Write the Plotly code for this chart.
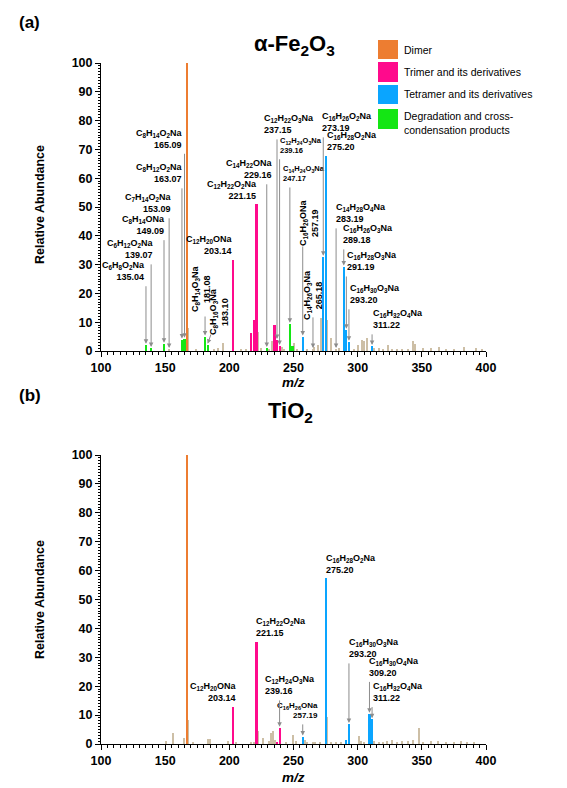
import plotly.graph_objects as go

# ---------------- DATA ----------------
# Panel (a): alpha-Fe2O3
a_dimer_mz = [167.10]
a_dimer_ab = [100.0]
a_trimer_mz = [203.14, 217.13, 219.14, 221.15, 235.14, 237.15, 239.16]
a_trimer_ab = [31.6, 6.1, 10.8, 50.9, 9.0, 3.8, 1.7]
a_tetramer_mz = [257.19, 273.19, 275.20, 289.18, 291.19, 293.20, 311.22]
a_tetramer_ab = [5.0, 32.7, 67.7, 29.3, 7.3, 3.2, 1.7]
a_degr_mz = [135.04, 139.07, 149.09, 163.07, 165.09, 181.08, 183.10, 229.16, 247.17, 249.17]
a_degr_ab = [2.1, 1.0, 2.5, 3.9, 4.2, 5.0, 2.1, 1.0, 9.4, 1.7]
a_other_mz = [153.09, 168.10, 174.0, 188.0, 191.0, 195.5, 209.0, 213.0, 222.15, 225.0, 231.0,
              233.2, 241.0, 243.0, 250.8, 253.0, 261.0, 265.18, 266.4, 269.0, 271.2, 276.2,
              279.4, 283.19, 285.8, 297.0, 300.0, 303.4, 305.3, 307.0, 313.0, 317.0, 320.0,
              323.5, 327.0, 331.0, 335.0, 339.0, 343.0, 345.0, 350.8, 357.0, 363.8, 369.0,
              375.0, 383.3, 392.4, 397.0]
a_other_ab = [0.6, 8.0, 0.5, 0.5, 1.0, 2.7, 0.8, 0.5, 6.7, 1.0, 0.8,
              3.5, 1.5, 0.8, 2.7, 0.8, 0.6, 0.6, 1.5, 2.0, 11.3, 10.8,
              4.4, 0.6, 1.2, 0.8, 2.0, 3.8, 3.5, 4.5, 1.0, 1.0, 0.6,
              2.0, 0.8, 0.6, 0.8, 0.8, 3.5, 2.5, 1.0, 1.0, 1.5, 0.6,
              0.5, 1.5, 1.0, 0.5]

# Panel (b): TiO2
b_dimer_mz = [167.10]
b_dimer_ab = [100.0]
b_trimer_mz = [203.14, 221.15, 237.15, 239.16]
b_trimer_ab = [12.7, 35.4, 0.8, 5.6]
b_tetramer_mz = [257.19, 275.20, 291.19, 293.20, 309.20, 311.22]
b_tetramer_ab = [2.5, 57.3, 1.4, 6.9, 10.4, 8.5]
b_other_mz = [150.5, 155.9, 164.5, 168.10, 172.0, 183.2, 185.2, 199.0, 205.0, 217.0, 219.0,
              222.15, 226.5, 231.0, 232.5, 234.5, 236.0, 244.0, 249.8, 252.0, 259.0, 261.0,
              265.0, 267.0, 271.0, 276.2, 279.0, 283.0, 287.0, 300.8, 303.0, 305.0, 313.0,
              317.0, 320.0, 323.0, 327.0, 331.0, 335.0, 339.0, 343.0, 347.7, 351.0, 357.0,
              363.0, 369.0, 375.0, 381.0, 385.0, 391.0]
b_other_ab = [1.0, 3.9, 2.2, 8.3, 0.8, 1.7, 1.7, 1.0, 0.7, 0.5, 0.8,
              4.6, 2.2, 1.0, 3.9, 4.5, 1.5, 0.8, 3.1, 1.2, 1.5, 0.8,
              0.8, 0.8, 0.5, 9.4, 0.8, 0.5, 0.6, 2.8, 1.2, 0.8, 1.2,
              0.8, 0.5, 1.0, 1.5, 0.8, 1.0, 1.0, 1.5, 5.5, 0.8, 1.0,
              1.2, 0.8, 0.5, 1.0, 0.8, 0.5]

x_ticks = [100, 150, 200, 250, 300, 350, 400]
y_ticks = [0, 10, 20, 30, 40, 50, 60, 70, 80, 90, 100]
legend_names = ["Dimer", "Trimer and its derivatives", "Tetramer and its derivatives",
                "Degradation and cross-<br>condensation products"]

# ---------------- STYLE ----------------
C_DIM = "#ED7D31"
C_TRI = "#FF0A8C"
C_TET = "#0AA5FF"
C_DEG = "#14E614"
C_OTH = "#CDBFA6"
C_LEAD = "#8C8C8C"
FONT = "Arial, Liberation Sans, sans-serif"
W, H = 567, 788

fig = go.Figure()

def add_bars(mz, ab, color, width, xa, ya):
    fig.add_trace(go.Bar(x=mz, y=ab, width=width, marker=dict(color=color, line=dict(width=0)),
                         xaxis=xa, yaxis=ya, showlegend=False, hoverinfo="x+y"))

add_bars(a_other_mz, a_other_ab, C_OTH, 1.0, "x", "y")
add_bars(a_degr_mz, a_degr_ab, C_DEG, 1.7, "x", "y")
add_bars(a_trimer_mz, a_trimer_ab, C_TRI, 1.7, "x", "y")
add_bars(a_tetramer_mz, a_tetramer_ab, C_TET, 1.7, "x", "y")
add_bars(a_dimer_mz, a_dimer_ab, C_DIM, 1.7, "x", "y")

add_bars(b_other_mz, b_other_ab, C_OTH, 1.0, "x2", "y2")
add_bars(b_trimer_mz, b_trimer_ab, C_TRI, 1.7, "x2", "y2")
add_bars(b_tetramer_mz, b_tetramer_ab, C_TET, 1.7, "x2", "y2")
add_bars(b_dimer_mz, b_dimer_ab, C_DIM, 1.7, "x2", "y2")

a_lookup = dict(zip(a_dimer_mz + a_trimer_mz + a_tetramer_mz + a_degr_mz + a_other_mz,
                    a_dimer_ab + a_trimer_ab + a_tetramer_ab + a_degr_ab + a_other_ab))
b_lookup = dict(zip(b_dimer_mz + b_trimer_mz + b_tetramer_mz + b_other_mz,
                    b_dimer_ab + b_trimer_ab + b_tetramer_ab + b_other_ab))

def px2paper_x(px):
    return px / W

def px2paper_y(py):
    return 1 - py / H

axis_common = dict(showgrid=False, zeroline=False, showline=True, linecolor="black", linewidth=1,
                   ticks="outside", tickcolor="black", tickwidth=1, automargin=False,
                   tickfont=dict(family=FONT, size=12.5, color="black", weight="bold"))

xdom = [px2paper_x(101), px2paper_x(486)]
fig.update_layout(
    width=W, height=H, margin=dict(l=0, r=0, t=0, b=0, autoexpand=False),
    paper_bgcolor="white", plot_bgcolor="white", barmode="overlay", bargap=0,
    showlegend=False,
    xaxis=dict(domain=xdom, range=[100, 400], tickvals=x_ticks, ticklen=5, anchor="y",
               minor=dict(dtick=5, ticklen=3, ticks="outside", tickcolor="black"), **axis_common),
    yaxis=dict(domain=[px2paper_y(351), px2paper_y(63)], range=[0, 100], tickvals=y_ticks,
               ticklen=5, anchor="x",
               minor=dict(dtick=1, ticklen=2.5, ticks="outside", tickcolor="black"), **axis_common),
    xaxis2=dict(domain=xdom, range=[100, 400], tickvals=x_ticks, ticklen=5, anchor="y2",
                minor=dict(dtick=5, ticklen=3, ticks="outside", tickcolor="black"), **axis_common),
    yaxis2=dict(domain=[px2paper_y(744), px2paper_y(455)], range=[0, 100], tickvals=y_ticks,
                ticklen=5, anchor="x2",
                minor=dict(dtick=1, ticklen=2.5, ticks="outside", tickcolor="black"), **axis_common),
)

ann = []

def ptext(px, py, text, size, **kw):
    d = dict(xref="paper", yref="paper", x=px2paper_x(px), y=px2paper_y(py), text=text,
             showarrow=False, xanchor="center", yanchor="middle",
             font=dict(family=FONT, size=size, color="black"))
    d.update(kw)
    ann.append(d)

# panel letters, titles, axis titles
ptext(29, 22, "<b>(a)</b>", 17)
ptext(30, 395, "<b>(b)</b>", 17)
ptext(294, 45, "<b>α-Fe<sub>2</sub>O<sub>3</sub></b>", 22)
ptext(290, 412, "<b>TiO<sub>2</sub></b>", 22)
ptext(40, 205, "<b>Relative Abundance</b>", 12.5, textangle=-90)
ptext(40, 600, "<b>Relative Abundance</b>", 12.5, textangle=-90)
ptext(293, 382, "<b><i>m/z</i></b>", 13.5)
ptext(293, 777, "<b><i>m/z</i></b>", 13.5)

# legend
leg_boxes = [(40, 59, C_DIM), (62, 82, C_TRI), (85, 104, C_TET), (109, 129, C_DEG)]
shapes = []
for (y0, y1, c), name in zip(leg_boxes, legend_names):
    shapes.append(dict(type="rect", xref="paper", yref="paper", x0=px2paper_x(378), x1=px2paper_x(398),
                       y0=px2paper_y(y1), y1=px2paper_y(y0), fillcolor=c, line=dict(width=0)))
    ptext(402, (y0 + y1) / 2 + (0 if "<br>" not in name else 4), name, 10.5, xanchor="left", align="left")


def formula(f):
    out = ""
    for ch in f:
        if ch.isdigit():
            out += "<sub>" + ch + "</sub>"
        else:
            out += ch
    return out.replace("</sub><sub>", "")

# labels: (formula, mass string, x, y, xanchor, yanchor, size, angle)
a_labels = [
    ("C8H16O2Na", "167.10", 169.0, 100.3, "right", "bottom", 9, 0),
    ("C8H14O2Na", "165.09", 165.8, 69.1, "right", "bottom", 9, 0),
    ("C8H12O2Na", "163.07", 165.1, 57.3, "right", "bottom", 9, 0),
    ("C7H14O2Na", "153.09", 156.5, 46.9, "right", "bottom", 9, 0),
    ("C8H14ONa", "149.09", 151.8, 39.2, "right", "bottom", 9, 0),
    ("C6H12O2Na", "139.07", 142.5, 30.9, "right", "bottom", 9, 0),
    ("C6H8O2Na", "135.04", 136.2, 23.3, "right", "bottom", 9, 0),
    ("C8H14O3Na", "181.08", 177.5, 21.7, "center", "middle", 9, -90),
    ("C8H16O3Na", "183.10", 191.9, 13.9, "center", "middle", 9, -90),
    ("C12H20ONa", "203.14", 204.8, 32.3, "right", "bottom", 9, 0),
    ("C12H22O2Na", "221.15", 223.3, 51.4, "right", "bottom", 9, 0),
    ("C14H22ONa", "229.16", 235.2, 58.7, "right", "bottom", 9, 0),
    ("C12H22O3Na", "237.15", 225.1, 74.3, "left", "bottom", 9, 0),
    ("C12H24O3Na", "239.16", 238.3, 67.4, "left", "bottom", 7.5, 0),
    ("C14H24O3Na", "247.17", 240.6, 57.6, "left", "bottom", 7.5, 0),
    ("C16H26ONa", "257.19", 261.7, 44.6, "center", "middle", 9, -90),
    ("C14H26O3Na", "265.18", 265.6, 19.3, "center", "middle", 9, -90),
    ("C16H26O2Na", "273.19", 271.0, 75.0, "left", "bottom", 9, 0),
    ("C16H28O2Na", "275.20", 274.2, 68.4, "left", "bottom", 9, 0),
    ("C14H28O4Na", "283.19", 281.2, 43.4, "left", "bottom", 9, 0),
    ("C16H26O3Na", "289.18", 286.7, 36.1, "left", "bottom", 9, 0),
    ("C16H28O3Na", "291.19", 290.5, 26.7, "left", "bottom", 9, 0),
    ("C16H30O3Na", "293.20", 292.1, 15.3, "left", "bottom", 9, 0),
    ("C16H32O4Na", "311.22", 310.0, 6.6, "left", "bottom", 9, 0),
]
b_labels = [
    ("C8H16O2Na", "167.10", 165.1, 100.7, "left", "bottom", 9, 0),
    ("C12H20ONa", "203.14", 207.9, 13.5, "right", "bottom", 9, 0),
    ("C12H22O2Na", "221.15", 219.6, 36.0, "left", "bottom", 9, 0),
    ("C12H24O3Na", "239.16", 226.6, 15.9, "left", "bottom", 9, 0),
    ("C16H26ONa", "257.19", 271.0, 7.6, "right", "bottom", 8, 0),
    ("C16H28O2Na", "275.20", 273.4, 57.8, "left", "bottom", 9, 0),
    ("C16H30O3Na", "293.20", 291.3, 28.7, "left", "bottom", 9, 0),
    ("C16H30O4Na", "309.20", 306.9, 22.3, "left", "bottom", 9, 0),
    ("C16H32O4Na", "311.22", 310.0, 13.6, "left", "bottom", 9, 0),
]

# leaders: (bar m/z, start abundance, optional start m/z)
a_leaders = [(165.09, 69.0, None), (163.07, 57.0, None), (153.09, 46.6, None), (149.09, 39.0, None),
             (139.07, 30.6, None), (135.04, 23.0, None), (181.08, 12.5, None), (183.10, 6.3, 186.1),
             (229.16, 58.4, None), (237.15, 74.0, None), (239.16, 67.1, None), (247.17, 57.3, None),
             (257.19, 36.8, None), (265.18, 12.2, None), (273.19, 74.7, None), (283.19, 43.1, None),
             (289.18, 35.8, None), (291.19, 26.4, None), (293.20, 15.0, None), (311.22, 6.3, None)]
b_leaders = [(239.16, 15.6, None), (257.19, 7.3, None), (293.20, 28.4, None),
             (309.20, 22.0, None), (311.22, 13.3, None)]

def add_labels(labels, xr, yr):
    for f, m, x, y, xa, ya, size, ang in labels:
        d = dict(xref=xr, yref=yr, x=x, y=y, xanchor=xa, yanchor=ya, showarrow=False,
                 text="<b>" + formula(f) + "<br>" + m + "</b>",
                 align="right" if xa == "right" else ("center" if xa == "center" else "left"),
                 font=dict(family=FONT, size=size, color="black"))
        if ang:
            d["textangle"] = ang
            d["align"] = "center"
        ann.append(d)

def add_leaders(leaders, lookup, xr, yr):
    for mz, y0, mz0 in leaders:
        ann.append(dict(xref=xr, yref=yr, axref=xr, ayref=yr, x=mz, y=lookup[mz] + 0.4,
                        ax=mz if mz0 is None else mz0, ay=y0, text="", showarrow=True,
                        arrowhead=2, arrowsize=0.9, arrowwidth=1, arrowcolor=C_LEAD))

add_labels(a_labels, "x", "y")
add_labels(b_labels, "x2", "y2")
add_leaders(a_leaders, a_lookup, "x", "y")
add_leaders(b_leaders, b_lookup, "x2", "y2")

fig.update_layout(annotations=ann, shapes=shapes)
fig.write_html("out.html", config={"displayModeBar": False},
               post_script="document.body.style.margin='0px';")
